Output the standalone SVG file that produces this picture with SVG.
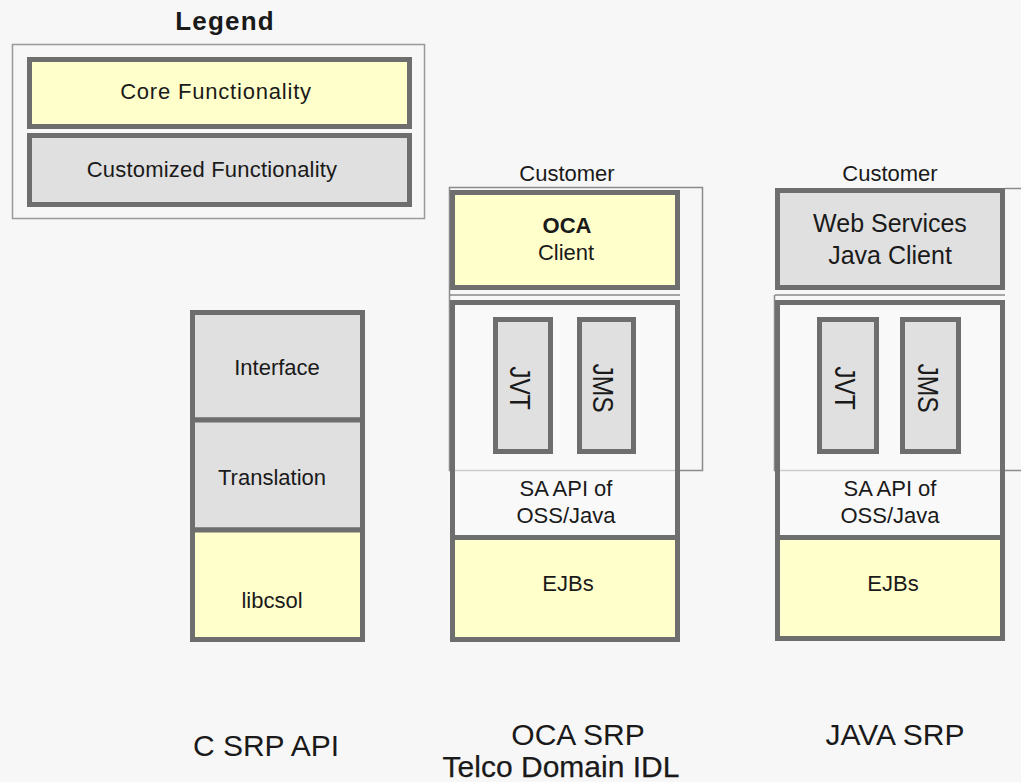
<svg xmlns="http://www.w3.org/2000/svg" width="1021" height="782" viewBox="0 0 1021 782">
<style>
text{font-family:"Liberation Sans",Arial,sans-serif;fill:#1a1a1a;text-anchor:middle}
.core{fill:#ffffcc;stroke:#6e6e6e;stroke-width:5}
.cust{fill:#e0e0e0;stroke:#6e6e6e;stroke-width:5}
.plain{fill:#fafafa;stroke:#6e6e6e;stroke-width:5}
.thin{fill:none;stroke:#8a8a8a;stroke-width:1.5}
.t22{font-size:22px}
.t30{font-size:30px}
.rot{font-size:30px}
</style>
<rect width="1021" height="782" fill="#f7f7f7"/>
<g id="legend">
<text x="225" y="30" font-size="26" font-weight="bold" letter-spacing="1.2">Legend</text>
<rect x="12.5" y="44.5" width="412" height="174" fill="none" stroke="#999" stroke-width="1.5"/>
<rect class="core" x="29.5" y="59.5" width="380" height="67"/>
<text class="t22" x="216" y="99" letter-spacing="0.8">Core Functionality</text>
<rect class="cust" x="29.5" y="135.5" width="380" height="69"/>
<text class="t22" x="212" y="177" letter-spacing="0.2">Customized Functionality</text>
</g>
<g id="c-srp">
<rect class="cust" x="192.5" y="312.5" width="170" height="107.5"/>
<text class="t22" x="277" y="375">Interface</text>
<rect class="cust" x="192.5" y="420" width="170" height="110"/>
<text class="t22" x="272" y="485">Translation</text>
<rect class="core" x="192.5" y="530" width="170" height="109.5"/>
<text class="t22" x="272" y="608">libcsol</text>
<text class="t30" x="266" y="756">C SRP API</text>
</g>
<g id="oca-srp">
<text class="t22" x="567" y="181">Customer</text>
<rect class="thin" x="449.5" y="187.5" width="253" height="283"/>
<line class="thin" x1="450" y1="295" x2="680" y2="295"/>
<rect class="core" x="452.5" y="192.5" width="225" height="95"/>
<text class="t22" x="567" y="233" font-weight="bold">OCA</text>
<text class="t22" x="566" y="260">Client</text>
<rect class="plain" x="452.5" y="302.5" width="225" height="235" fill-opacity="0.6"/>
<rect class="cust" x="495.5" y="319.5" width="55" height="132"/>
<text class="rot" transform="translate(520 388) rotate(90) scale(0.82 1)" y="10">JVT</text>
<rect class="cust" x="579.5" y="319.5" width="54" height="132"/>
<text class="rot" transform="translate(603 388) rotate(90) scale(0.82 1)" y="10">JMS</text>
<text class="t22" x="566" y="496">SA API of</text>
<text class="t22" x="566" y="523">OSS/Java</text>
<rect class="core" x="452.5" y="537.5" width="225" height="102"/>
<text class="t22" x="568" y="591">EJBs</text>
<text class="t30" x="578" y="745">OCA SRP</text>
<text class="t30" x="561" y="777" stroke="#1a1a1a" stroke-width="0.25">Telco Domain IDL</text>
</g>
<g id="java-srp">
<text class="t22" x="890" y="181">Customer</text>
<polyline class="thin" points="1005,188.5 1021,188.5"/>
<polyline class="thin" points="774.5,295 774.5,470.5 1021,470.5"/>
<line class="thin" x1="775" y1="295" x2="1005" y2="295"/>
<rect class="cust" x="777.5" y="190.5" width="225" height="97"/>
<text x="890" y="232" font-size="25">Web Services</text>
<text x="890" y="264" font-size="25">Java Client</text>
<rect class="plain" x="777.5" y="302.5" width="225" height="235" fill-opacity="0.6"/>
<rect class="cust" x="819.5" y="319.5" width="57" height="132"/>
<text class="rot" transform="translate(845 388) rotate(90) scale(0.82 1)" y="10">JVT</text>
<rect class="cust" x="902.5" y="319.5" width="56" height="132"/>
<text class="rot" transform="translate(928 388) rotate(90) scale(0.82 1)" y="10">JMS</text>
<text class="t22" x="890" y="496">SA API of</text>
<text class="t22" x="890" y="523">OSS/Java</text>
<rect class="core" x="777.5" y="537.5" width="225" height="101"/>
<text class="t22" x="893" y="591">EJBs</text>
<text class="t30" x="895" y="745">JAVA SRP</text>
</g>
<g id="connectors"></g>
</svg>
